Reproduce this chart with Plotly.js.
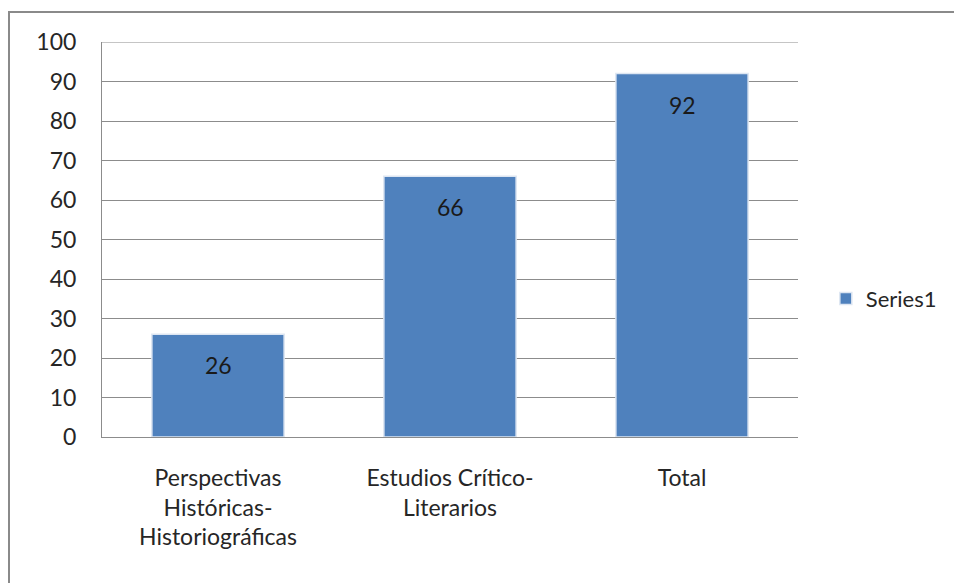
<!DOCTYPE html>
<html><head><meta charset="utf-8">
<script src="https://cdn.plot.ly/plotly-3.0.1.min.js"></script>
<style>
html,body{margin:0;padding:0;width:954px;height:583px;overflow:hidden;background:#fff}
#frame{position:absolute;left:8px;top:11px;width:1000px;height:700px;border:2px solid #8a8a8a;box-sizing:border-box}
#chart{position:absolute;left:0;top:0;width:954px;height:583px}
</style></head>
<body>
<div id="frame"></div>
<div id="chart"></div>
<script>
const categories = ["Perspectivas<br>Históricas-<br>Historiográficas", "Estudios Crítico-<br>Literarios", "Total"];
const values = [26, 66, 92];
const seriesName = "Series1";
const yTicks = [0,10,20,30,40,50,60,70,80,90,100];

const font = "Lato, 'Open Sans', sans-serif";
const trace = {
  type: "bar",
  x: categories,
  y: values,
  name: seriesName,
  marker: {color: "#4F81BD", line: {color: "#dde6f2", width: 1.5}},
  showlegend: true,
  hoverinfo: "none"
};
const annotations = categories.map((c, i) => ({
  x: c, y: values[i], xref: "x", yref: "y",
  text: String(values[i]), showarrow: false,
  yanchor: "middle", yshift: -31,
  font: {family: font, size: 23, color: "#1a1a1a"}
}));
const layout = {
  width: 954, height: 583,
  margin: {l: 102, r: 156, t: 42, b: 146},
  paper_bgcolor: "rgba(0,0,0,0)",
  plot_bgcolor: "rgba(0,0,0,0)",
  bargap: 0.43,
  font: {family: font, size: 23, color: "#262626"},
  xaxis: {
    type: "category",
    showline: true, linecolor: "#8c8c8c", linewidth: 1,
    showgrid: false, ticks: "", ticklabelstandoff: 20,
    tickfont: {family: font, size: 23, color: "#262626"}
  },
  yaxis: {
    range: [0, 100], tickvals: yTicks, ticktext: yTicks.map(String),
    showline: true, linecolor: "#8c8c8c", linewidth: 1,
    showgrid: true, gridcolor: "#8c8c8c", gridwidth: 1,
    zeroline: false, ticks: "", ticklabelstandoff: 20,
    tickfont: {family: font, size: 23, color: "#262626"}
  },
  legend: {
    x: 1.04, xanchor: "left", y: 0.35, yanchor: "middle",
    font: {family: font, size: 22, color: "#262626"},
    bgcolor: "rgba(0,0,0,0)", itemwidth: 30, borderwidth: 0
  },
  annotations: annotations,
  shapes: [{type: "line", xref: "paper", yref: "y", x0: 0, x1: 1, y0: 100, y1: 100, line: {color: "#8c8c8c", width: 1}}]
};
Plotly.newPlot("chart", [trace], layout, {displayModeBar: false, staticPlot: true});
</script>
</body></html>
